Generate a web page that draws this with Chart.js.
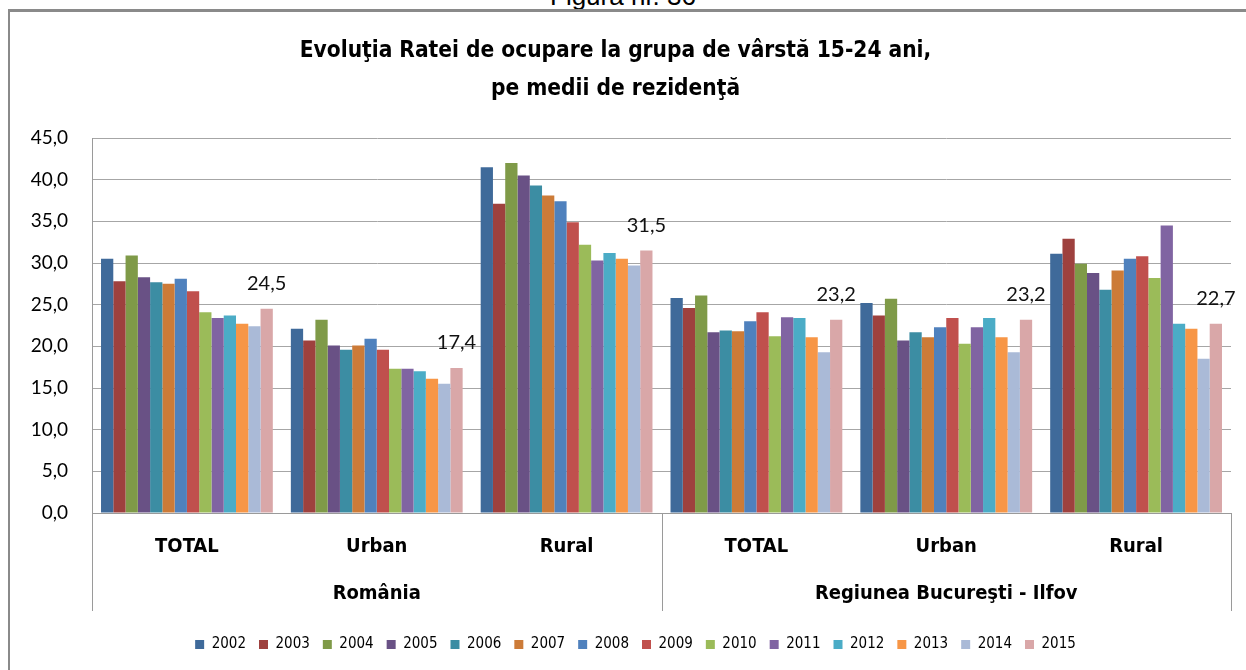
<!DOCTYPE html>
<html>
<head>
<meta charset="utf-8">
<script src="https://cdn.jsdelivr.net/npm/chart.js@4.4.1/dist/chart.umd.min.js"></script>
<style>
  html, body { margin: 0; padding: 0; background: #fff; overflow: hidden; }
  #wrap { position: relative; width: 1246px; height: 670px; }
  #frame { position: absolute; left: 8px; top: 9px; width: 1300px; height: 700px;
           border-left: 2px solid #8a8a8a; border-top: 3px solid #8a8a8a; pointer-events: none; }
  #fig { position: absolute; left: 0; width: 1246px; top: -17px; text-align: center;
         font: 26px "Liberation Sans", Arial, sans-serif; line-height: 26px; color: #000; }
  canvas { position: absolute; left: 0; top: 0; }
</style>
</head>
<body>
<div id="wrap">
  <div id="fig">Figura nr. 36</div>
  <div id="frame"></div>
  <canvas id="c" width="1246" height="670"></canvas>
</div>
<script>
// ---- data ----
const categories = ['TOTAL', 'Urban', 'Rural', 'TOTAL', 'Urban', 'Rural'];
const groups = ['România', 'Regiunea Bucureşti - Ilfov'];
const years = ['2002','2003','2004','2005','2006','2007','2008','2009','2010','2011','2012','2013','2014','2015'];
const yTicks = [0, 5, 10, 15, 20, 25, 30, 35, 40, 45];

const v2002 = [30.5, 22.1, 41.5, 25.8, 25.2, 31.1];
const v2003 = [27.8, 20.7, 37.1, 24.6, 23.7, 32.9];
const v2004 = [30.9, 23.2, 42.0, 26.1, 25.7, 29.9];
const v2005 = [28.3, 20.1, 40.5, 21.7, 20.7, 28.8];
const v2006 = [27.7, 19.6, 39.3, 21.9, 21.7, 26.8];
const v2007 = [27.5, 20.1, 38.1, 21.8, 21.1, 29.1];
const v2008 = [28.1, 20.9, 37.4, 23.0, 22.3, 30.5];
const v2009 = [26.6, 19.6, 34.9, 24.1, 23.4, 30.8];
const v2010 = [24.1, 17.3, 32.2, 21.2, 20.3, 28.2];
const v2011 = [23.4, 17.3, 30.3, 23.5, 22.3, 34.5];
const v2012 = [23.7, 17.0, 31.2, 23.4, 23.4, 22.7];
const v2013 = [22.7, 16.1, 30.5, 21.1, 21.1, 22.1];
const v2014 = [22.4, 15.5, 29.7, 19.3, 19.3, 18.5];
const v2015 = [24.5, 17.4, 31.5, 23.2, 23.2, 22.7];
const seriesValues = [v2002, v2003, v2004, v2005, v2006, v2007, v2008, v2009, v2010, v2011, v2012, v2013, v2014, v2015];

const colors = ['#3F6A9A','#9E413E','#7F9A48','#695185','#3C8DA3','#CC7B38','#4F81BD',
                '#C0504D','#9BBB59','#8064A2','#4BACC6','#F79646','#AABAD7','#D9A7A8'];

const NARROW = '"Liberation Sans Narrow", "Arial Narrow", "DejaVu Sans Condensed", sans-serif';
const CAL = 'Lato, "Open Sans", sans-serif';
const fmt = v => v.toFixed(1).replace('.', ',');

// ---- plugins ----
const groupAxisPlugin = {
  id: 'groupAxis',
  afterLayout(chart) {
    // centre the legend like the original (offset to the right of the y-axis area)
    if (chart.legend) { chart.legend.left += 20; chart.legend.right += 20; }
  },
  afterDraw(chart) {
    const ctx = chart.ctx, ca = chart.chartArea, x = chart.scales.x;
    const bottom = ca.bottom + 98;
    ctx.save();
    ctx.strokeStyle = '#9a9a9a';
    ctx.lineWidth = 1;
    const seps = [ca.left, x.getPixelForValue(2.5), ca.right];
    seps.forEach(px => {
      const xx = Math.round(px) + 0.5;
      ctx.beginPath(); ctx.moveTo(xx, ca.bottom); ctx.lineTo(xx, bottom); ctx.stroke();
    });
    ctx.fillStyle = '#000';
    ctx.font = 'bold 20px ' + NARROW;
    ctx.textAlign = 'center';
    ctx.textBaseline = 'middle';
    groups.forEach((g, i) => {
      const cx = (seps[i] + seps[i + 1]) / 2;
      ctx.fillText(g, cx, ca.bottom + 81);
    });
    ctx.restore();
  }
};

const lastLabelPlugin = {
  id: 'lastLabel',
  afterDatasetsDraw(chart) {
    const ctx = chart.ctx;
    const di = chart.data.datasets.length - 1;
    const meta = chart.getDatasetMeta(di);
    ctx.save();
    ctx.fillStyle = '#111';
    ctx.font = '20px ' + CAL;
    ctx.textAlign = 'center';
    ctx.textBaseline = 'alphabetic';
    meta.data.forEach((bar, i) => {
      ctx.fillText(fmt(chart.data.datasets[di].data[i]), bar.x, bar.y - 19);
    });
    ctx.restore();
  }
};

new Chart(document.getElementById('c'), {
  type: 'bar',
  data: {
    labels: categories,
    datasets: years.map((y, i) => ({
      label: y,
      data: seriesValues[i],
      backgroundColor: colors[i],
      borderWidth: 0,
      categoryPercentage: 0.905,
      barPercentage: 1.0
    }))
  },
  options: {
    responsive: false,
    animation: false,
    layout: { padding: { left: 0, right: 15, top: 0, bottom: 8 } },
    plugins: {
      title: {
        display: true,
        text: ['Evoluţia Ratei de ocupare la grupa de vârstă 15-24 ani,', 'pe medii de rezidenţă'],
        color: '#000',
        font: { family: NARROW, size: 22.5, weight: 'bold', lineHeight: 1.7 },
        padding: { top: 32, bottom: 29.5 }
      },
      legend: {
        position: 'bottom',
        labels: {
          color: '#000',
          font: { family: NARROW, size: 15 },
          boxWidth: 9, boxHeight: 9,
          padding: 13
        }
      },
      tooltip: { enabled: false }
    },
    scales: {
      x: {
        grid: { display: false, drawTicks: false },
        border: { display: true, color: '#9a9a9a', width: 1 },
        ticks: { color: '#000', font: { family: NARROW, size: 20, weight: 'bold' }, padding: 22, maxRotation: 0 },
        afterFit(s) { s.height = 111; }
      },
      y: {
        min: 0, max: 45,
        afterBuildTicks(s) { s.ticks = yTicks.map(v => ({ value: v })); },
        ticks: { color: '#000', font: { family: CAL, size: 19 }, padding: 24, callback: v => fmt(v) },
        grid: { color: '#a6a6a6', lineWidth: 1, drawTicks: false },
        border: { display: true, color: '#9a9a9a', width: 1 },
        afterFit(s) { s.width = 92; }
      }
    }
  },
  plugins: [groupAxisPlugin, lastLabelPlugin]
});
</script>
</body>
</html>
